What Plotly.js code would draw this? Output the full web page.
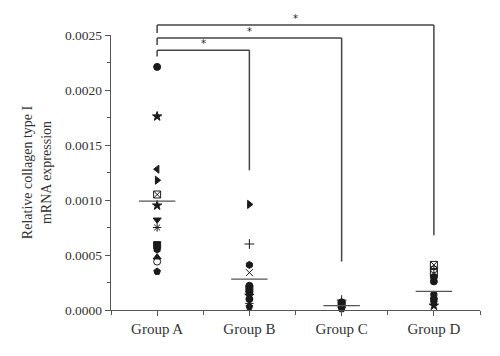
<!DOCTYPE html>
<html><head><meta charset="utf-8">
<script src="https://cdn.plot.ly/plotly-3.0.1.min.js"></script>
<style>body{margin:0;background:#fff}#c{width:500px;height:356px}</style>
</head><body><div id="c"></div>
<script>
const categories = ['Group A','Group B','Group C','Group D'];
const groupA = [0.00221,0.00176,0.00128,0.00118,0.00105,0.00095,0.00082,0.00075,0.00059,0.00055,0.00048,0.00044,0.00035];
const symA = ['circle','star','triangle-left','triangle-right','square-x-open','star','triangle-down','asterisk-open','square','hexagon','triangle-up','circle-open','pentagon'];
const groupB = [0.00096,0.00060,0.00041,0.00034,0.00022,0.00019,0.00016,0.00013,0.00010,0.00006,0.00003];
const symB = ['triangle-right','cross-thin-open','hexagon','x-thin-open','circle','square','hexagon','star','circle','asterisk-open','pentagon'];
const groupC = [0.00009,0.00007,0.00005,0.00003,0.00001];
const symC = ['cross-thin-open','circle','square','hexagon','pentagon'];
const groupD = [0.00041,0.00037,0.00034,0.00030,0.00026,0.00014,0.00010,0.00007,0.00004];
const symD = ['square-x-open','circle-cross-open','square-open','circle','circle','hexagon','circle','pentagon','star'];
const means = [0.00099,0.00028,0.00004,0.00017];
// significance brackets: [from, to, level (paper), leg end value]
const brFrom = [0,0,0];
const brTo = [1,2,3];
const brLevel = [0.945,0.989,1.036];
const brLegEnd = [0.00127,0.00044,0.00068];
const brLeftEnd = [0.922,0.964,1.007];
const brLabel = ['*','*','*'];

const yMax = 0.0025;
const groups=[groupA,groupB,groupC,groupD], syms=[symA,symB,symC,symD];
const traces = groups.map((g,i)=>({
  type:'scatter', mode:'markers', x:g.map(()=>i), y:g,
  marker:{symbol:syms[i], size:7, color:'#1a1a1a', line:{color:'#1a1a1a',width:1}},
  cliponaxis:false, showlegend:false, hoverinfo:'y'
}));
traces.push({type:'scatter',mode:'markers',x:means.map((_,i)=>i),y:means,
  marker:{symbol:'line-ew',size:26,line:{color:'#555',width:1.3}},showlegend:false,cliponaxis:false});

const shapes=[], annotations=[];
const lc={color:'#444',width:1.5};
for(let k=0;k<brFrom.length;k++){
  shapes.push({type:'line',xref:'x',yref:'paper',x0:brFrom[k],x1:brTo[k],y0:brLevel[k],y1:brLevel[k],line:lc});
  shapes.push({type:'line',xref:'x',yref:'paper',x0:brFrom[k],x1:brFrom[k],y0:brLevel[k],y1:brLeftEnd[k],line:lc});
  shapes.push({type:'line',xref:'x',yref:'paper',x0:brTo[k],x1:brTo[k],y0:brLevel[k],y1:brLegEnd[k]/yMax,line:lc});
  annotations.push({xref:'x',yref:'paper',x:(brFrom[k]+brTo[k])/2,y:brLevel[k],yanchor:'bottom',showarrow:false,
    text:brLabel[k],font:{family:'DejaVu Sans',size:10,color:'#222'},yshift:-1});
}

const layout={
  width:500,height:356,margin:{l:111,r:20,t:35,b:46},
  paper_bgcolor:'#fff',plot_bgcolor:'#fff',
  font:{family:'Liberation Serif, DejaVu Serif, serif',color:'#333',size:12},
  xaxis:{range:[-0.5,3.5],tickvals:[0,1,2,3],ticktext:categories,showgrid:false,zeroline:false,
    showline:true,linecolor:'#555',linewidth:1.3,ticks:'outside',ticklen:5,tickcolor:'#555',
    tickfont:{size:15,color:'#333'},
    minor:{tickvals:[-0.5,0.5,1.5,2.5,3.5],ticks:'outside',ticklen:4,tickcolor:'#555',showgrid:false}},
  yaxis:{range:[0,yMax],tickvals:[0,0.0005,0.001,0.0015,0.002,0.0025],tickformat:'.4f',showgrid:false,zeroline:false,
    showline:true,linecolor:'#555',linewidth:1.3,ticks:'outside',ticklen:5,tickcolor:'#555',
    tickfont:{size:13.5,color:'#333'},
    minor:{dtick:0.00025,ticks:'outside',ticklen:3,tickcolor:'#555',showgrid:false},
    title:{text:'Relative collagen type I<br>mRNA expression',font:{size:14,color:'#333'},standoff:10}},
  shapes:shapes,annotations:annotations
};
Plotly.newPlot('c',traces,layout,{staticPlot:true});
</script></body></html>
